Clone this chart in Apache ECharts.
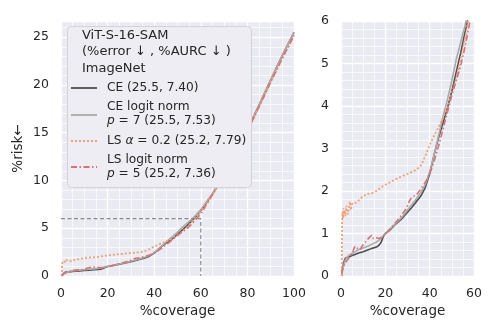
<!DOCTYPE html>
<html>
<head>
<meta charset="utf-8">
<script src="https://cdn.jsdelivr.net/npm/echarts@6/dist/echarts.min.js"></script>
<style>
  html, body { margin: 0; padding: 0; background: #fff; }
  #chart { width: 498px; height: 332px; }
</style>
</head>
<body>
<div id="chart"></div>
<script>
// coverage (%) / risk (%)
const covCE   = [0.3, 0.6, 1, 1.5, 2, 2.5, 3, 4, 5, 6, 8, 10, 12, 14, 16, 17, 18, 19, 20, 22, 24, 26, 28, 30, 32, 34, 36, 38, 40, 42, 44, 46, 48, 50, 52, 54, 56, 58, 60]
const riskCE  = [0, 0.15, 0.25, 0.36, 0.42, 0.45, 0.44, 0.46, 0.48, 0.5, 0.54, 0.57, 0.61, 0.65, 0.68, 0.72, 0.78, 0.92, 1.0, 1.08, 1.19, 1.28, 1.38, 1.5, 1.62, 1.75, 1.88, 2.08, 2.4, 2.85, 3.25, 3.6, 3.95, 4.35, 4.8, 5.25, 5.75, 6.25, 6.85]
const riskCELN = [0, 0.1, 0.2, 0.3, 0.38, 0.42, 0.46, 0.5, 0.53, 0.56, 0.62, 0.66, 0.7, 0.75, 0.8, 0.84, 0.88, 0.95, 1.0, 1.1, 1.2, 1.3, 1.42, 1.55, 1.68, 1.82, 1.96, 2.15, 2.45, 2.85, 3.3, 3.75, 4.15, 4.6, 5.1, 5.5, 5.9, 6.4, 6.95]

const covLS  = [0.3, 0.4, 0.5, 0.7, 0.9, 1.1, 1.3, 1.6, 2, 2.4, 2.8, 3.2, 3.6, 4, 4.5, 5, 6, 8, 10, 12, 14, 16, 18, 20, 22, 24, 26, 28, 30, 32, 34, 36, 37, 38, 39, 40, 42, 44, 46, 48, 50, 52, 54, 56, 58, 60]
const riskLS = [0, 0.6, 1.3, 1.5, 1.35, 1.6, 1.45, 1.55, 1.4, 1.65, 1.5, 1.45, 1.6, 1.75, 1.55, 1.7, 1.7, 1.78, 1.88, 1.93, 1.95, 2.0, 2.08, 2.15, 2.2, 2.26, 2.31, 2.36, 2.4, 2.45, 2.5, 2.6, 2.7, 2.82, 2.95, 3.08, 3.3, 3.5, 3.72, 3.95, 4.3, 4.65, 5.1, 5.6, 6.2, 6.75]

const covLSLN  = [0.3, 0.8, 1.5, 2.5, 3.5, 4.5, 5.5, 6.3, 7.5, 8.6, 9.5, 10.8, 12.3, 13.8, 14.6, 16, 17, 18, 20, 22, 24, 26, 28, 29.6, 31, 32, 34, 36, 38, 40, 42, 44, 46, 48, 50, 52, 54, 56, 58, 60]
const riskLSLN = [0.05, 0.2, 0.28, 0.35, 0.42, 0.5, 0.6, 0.7, 0.65, 0.62, 0.7, 0.78, 0.88, 0.96, 0.88, 0.9, 0.88, 0.9, 0.98, 1.1, 1.22, 1.34, 1.48, 1.6, 1.78, 1.86, 1.9, 2.05, 2.2, 2.4, 2.7, 3.05, 3.45, 3.85, 4.25, 4.6, 4.95, 5.4, 5.95, 6.5]

// above 60% coverage the curves sit on top of each other
const covTail    = [65, 70, 75, 80, 85, 90, 95, 100]
const riskTailCE = [8.6, 10.6, 12.9, 15.3, 17.9, 20.5, 23.1, 25.5]
const riskTailLS = [8.5, 10.5, 12.8, 15.2, 17.7, 20.3, 22.8, 25.2]

// dashed guide at 60% coverage
const refCov  = [0, 60, 60]
const refRisk = [6, 6, 0]

const names = ['CE (25.5, 7.40)', 'CE logit norm\n{i|p} = 7 (25.5, 7.53)', 'LS {i|α} = 0.2 (25.2, 7.79)', 'LS logit norm\n{i|p} = 5 (25.2, 7.36)']
const titleLines = ['ViT-S-16-SAM', '(%error ↓ , %AURC ↓ )', 'ImageNet']

const colors = ['#4f4f4f', '#ababab', '#eca27a', '#d77376']
const dashes = ['solid', 'solid', [2, 2], [6, 2.5, 1.5, 2.5]]

const pairs = (xs, ys) => xs.map((x, i) => [x, ys[i]])
const curves = [
  pairs(covCE.concat(covTail), riskCE.concat(riskTailCE)),
  pairs(covCE.concat(covTail), riskCELN.concat(riskTailCE)),
  pairs(covLS.concat(covTail), riskLS.concat(riskTailLS)),
  pairs(covLSLN.concat(covTail), riskLSLN.concat(riskTailLS))
]

const font = 'DejaVu Sans'
const txt = '#262626'
const major = { show: true, lineStyle: { color: '#fff', width: 1.3 } }
const minor = { show: true, lineStyle: { color: '#fff', width: 0.7 } }

const baseAxis = {
  type: 'value',
  axisLine: { show: false },
  axisTick: { show: false },
  axisLabel: { color: txt, fontFamily: font, fontSize: 12.5 },
  nameTextStyle: { color: txt, fontFamily: font, fontSize: 13.5 }
}

const chart = echarts.init(document.getElementById('chart'))

const series = []
curves.forEach((d, i) => {
  ;[[0, 0], [1, 2]].forEach(([xi, yi]) => {
    series.push({
      type: 'line', data: d, xAxisIndex: xi, yAxisIndex: yi,
      symbol: 'none', clip: true, z: 3 + i,
      lineStyle: { color: colors[i], width: i === 2 ? 1.8 : 1.6, type: dashes[i] }
    })
  })
})
series.push({
  type: 'line', data: pairs(refCov, refRisk), xAxisIndex: 0, yAxisIndex: 0,
  symbol: 'none', z: 8,
  lineStyle: { color: '#8a8a8a', width: 1.2, type: [4, 2.5] }
})

// legend drawn by hand (multi-line labels with math)
const lg = { x: 67, y: 26, w: 184, h: 161 }
const graphic = [{
  type: 'rect', z: 20,
  shape: { x: lg.x + 0.5, y: lg.y + 0.5, width: lg.w, height: lg.h, r: 4 },
  style: { fill: '#ededf3', stroke: '#d2d2da', lineWidth: 1 }
}]
titleLines.forEach((t, i) => {
  graphic.push({
    type: 'text', z: 21, x: 82, y: [36, 52, 69][i],
    style: { text: t, font: '13px "DejaVu Sans"', fill: txt, verticalAlign: 'middle' }
  })
})
const handleY = [88, 115, 141, 167]
const textY = [88, 114, 141, 167]
names.forEach((n, i) => {
  graphic.push({
    type: 'line', z: 21,
    shape: { x1: 71, y1: handleY[i], x2: 97, y2: handleY[i] },
    style: { stroke: colors[i], lineWidth: 1.8, lineDash: dashes[i] === 'solid' ? null : dashes[i] }
  })
  graphic.push({
    type: 'text', z: 21, x: 107, y: textY[i],
    style: {
      text: n, fill: txt, verticalAlign: 'middle', lineHeight: 14,
      fontFamily: font, fontSize: 12.2,
      rich: { i: { fontStyle: 'italic', fontFamily: font, fontSize: 12.2, fill: txt, lineHeight: 14 } }
    }
  })
})

chart.setOption({
  animation: false,
  backgroundColor: '#fff',
  grid: [
    { left: 61, right: 204, top: 21, bottom: 56, show: true, backgroundColor: '#eaeaf2', borderWidth: 0 },
    { left: 341, right: 24, top: 21, bottom: 56, show: true, backgroundColor: '#eaeaf2', borderWidth: 0 }
  ],
  xAxis: [
    Object.assign({}, baseAxis, {
      gridIndex: 0, min: 0, max: 100, interval: 20,
      name: '%coverage', nameLocation: 'middle', nameGap: 27,
      axisLabel: Object.assign({}, baseAxis.axisLabel, { margin: 11 }),
      splitLine: major, minorTick: { show: false, splitNumber: 4 }, minorSplitLine: minor
    }),
    Object.assign({}, baseAxis, {
      gridIndex: 1, min: 0, max: 60, interval: 20,
      name: '%coverage', nameLocation: 'middle', nameGap: 27,
      axisLabel: Object.assign({}, baseAxis.axisLabel, { margin: 11 }),
      splitLine: major, minorTick: { show: false, splitNumber: 4 }, minorSplitLine: minor
    })
  ],
  yAxis: [
    Object.assign({}, baseAxis, {
      gridIndex: 0, min: 0, max: 26.7, interval: 5,
      name: '%risk←', nameLocation: 'middle', nameGap: 36, nameRotate: 90,
      axisLabel: Object.assign({}, baseAxis.axisLabel, {
        margin: 12, showMaxLabel: false,
        formatter: v => (v % 5 === 0 ? v : '')
      }),
      splitLine: major
    }),
    Object.assign({}, baseAxis, {
      gridIndex: 0, min: 0, max: 26.7, interval: 1, position: 'left',
      axisLabel: { show: false }, splitLine: minor
    }),
    Object.assign({}, baseAxis, {
      gridIndex: 1, min: 0, max: 6, interval: 1,
      axisLabel: Object.assign({}, baseAxis.axisLabel, { margin: 12 }),
      splitLine: major, minorTick: { show: false, splitNumber: 5 }, minorSplitLine: minor
    })
  ],
  series: series,
  graphic: graphic
})

window.addEventListener('resize', () => chart.resize())
</script>
</body>
</html>
